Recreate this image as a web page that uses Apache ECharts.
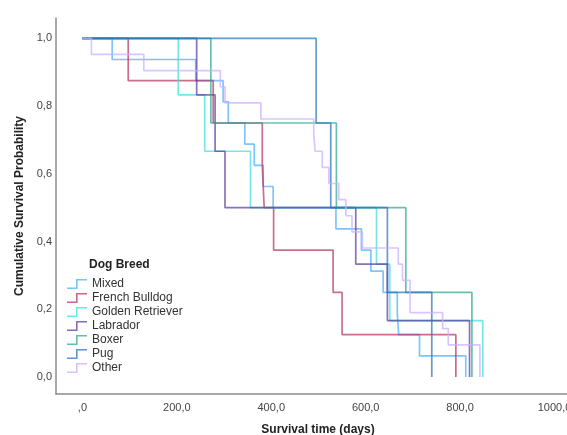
<!DOCTYPE html>
<html>
<head>
<meta charset="utf-8">
<script src="https://cdn.jsdelivr.net/npm/echarts@6/dist/echarts.min.js"></script>
<style>
html,body{margin:0;padding:0;background:#fff;}
#chart{width:567px;height:435px;}
</style>
</head>
<body>
<div id="chart"></div>
<script>
// ---- data ----
const categories = ['Mixed', 'French Bulldog', 'Golden Retriever', 'Labrador', 'Boxer', 'Pug', 'Other'];

const mixedTimes = [0, 63, 240, 298, 309, 344, 364, 383, 404, 537, 591, 611, 637, 667, 670, 714, 812];
const mixedSurv  = [1, 0.9375, 0.875, 0.8125, 0.75, 0.6875, 0.625, 0.5625, 0.5, 0.4375, 0.375, 0.3125, 0.25, 0.1875, 0.125, 0.0625, 0];

const frenchTimes = [0, 97, 277, 381, 385, 405, 531, 550, 791];
const frenchSurv  = [1, 0.875, 0.75, 0.625, 0.5, 0.375, 0.25, 0.125, 0];

const goldenTimes = [0, 203, 259, 356, 623, 651, 848];
const goldenSurv  = [1, 0.8333, 0.6667, 0.5, 0.3333, 0.1667, 0];

const labradorTimes = [0, 242, 281, 302, 579, 646, 820];
const labradorSurv  = [1, 0.8333, 0.6667, 0.5, 0.3333, 0.1667, 0];

const boxerTimes = [0, 272, 538, 685, 825];
const boxerSurv  = [1, 0.75, 0.5, 0.25, 0];

const pugTimes = [0, 495, 526, 646, 740];
const pugSurv  = [1, 0.75, 0.5, 0.25, 0];

const otherTimes = [0, 19, 130, 292, 302, 378, 490, 493, 508, 522, 543, 558, 571, 593, 669, 678, 694, 763, 775, 842];
const otherSurv  = [1, 0.9524, 0.9048, 0.8571, 0.8095, 0.7619, 0.7143, 0.6667, 0.6190, 0.5714, 0.5238, 0.4762, 0.4286, 0.3810, 0.3333, 0.2857, 0.1905, 0.1429, 0.0952, 0];

const xTickValues = [0, 200, 400, 600, 800, 1000];
const xTickLabels = [',0', '200,0', '400,0', '600,0', '800,0', '1000,0'];
const yTickValues = [0, 0.2, 0.4, 0.6, 0.8, 1.0];
const yTickLabels = ['0,0', '0,2', '0,4', '0,6', '0,8', '1,0'];

// ---- styles ----
const colors = ['#4aaeff', '#b8355f', '#3fdede', '#5a3c9e', '#2ea88f', '#2e72c2', '#cdaeff'];
const FONT = 'Liberation Sans, Arial, sans-serif';

const groups = [
  [mixedTimes, mixedSurv], [frenchTimes, frenchSurv], [goldenTimes, goldenSurv],
  [labradorTimes, labradorSurv], [boxerTimes, boxerSurv], [pugTimes, pugSurv], [otherTimes, otherSurv]
];

const series = groups.map((g, k) => ({
  name: categories[k],
  type: 'line',
  step: 'end',
  showSymbol: false,
  symbol: 'none',
  color: colors[k],
  itemStyle: { color: colors[k], opacity: 0.75 },
  lineStyle: { width: 1.7, opacity: 0.72, color: colors[k] },
  data: g[0].map((t, i) => [t, g[1][i]]),
  animation: false
}));

const chart = echarts.init(document.getElementById('chart'), null, { renderer: 'canvas' });
chart.setOption({
  animation: false,
  backgroundColor: '#fff',
  title: {
    text: 'Dog Breed',
    left: 89, top: 259, padding: 0,
    textStyle: { fontFamily: FONT, fontSize: 12, fontWeight: 'bold', color: '#222' }
  },
  legend: {
    orient: 'vertical',
    left: 67, top: 277, padding: 0,
    itemWidth: 20, itemHeight: 10, itemGap: 0,
    icon: 'path://M0,8.4 L9,8.4 L9,0 L20,0 L20,1.6 L10.6,1.6 L10.6,10 L0,10 Z',
    textStyle: { fontFamily: FONT, fontSize: 12, color: '#333', lineHeight: 14 },
    data: categories
  },
  grid: { left: 56, top: 18, width: 524, height: 376, containLabel: false, outerBoundsMode: 'none' },
  xAxis: {
    type: 'value', min: -56, max: 1054,
    axisLine: { show: true, onZero: false, lineStyle: { color: '#8c8c8c', width: 1.5 } },
    axisTick: { show: false },
    splitLine: { show: false },
    axisLabel: {
      customValues: xTickValues,
      formatter: v => xTickLabels[xTickValues.indexOf(v)] ?? '',
      fontFamily: FONT, fontSize: 11, color: '#444', margin: 8
    },
    name: 'Survival time (days)', nameLocation: 'middle', nameGap: 30,
    nameTextStyle: { fontFamily: FONT, fontSize: 12, fontWeight: 'bold', color: '#222' }
  },
  yAxis: {
    type: 'value', min: -0.05, max: 1.06,
    axisLine: { show: true, onZero: false, lineStyle: { color: '#8c8c8c', width: 1.5 } },
    axisTick: { show: false },
    splitLine: { show: false },
    axisLabel: {
      customValues: yTickValues,
      formatter: v => {
        const i = yTickValues.findIndex(t => Math.abs(t - v) < 1e-9);
        return i >= 0 ? yTickLabels[i] : '';
      },
      fontFamily: FONT, fontSize: 11, color: '#444', margin: 4
    },
    name: 'Cumulative Survival Probability', nameLocation: 'middle', nameGap: 29, nameRotate: 90,
    nameTextStyle: { fontFamily: FONT, fontSize: 12, fontWeight: 'bold', color: '#222' }
  },
  series: series
});
</script>
</body>
</html>
